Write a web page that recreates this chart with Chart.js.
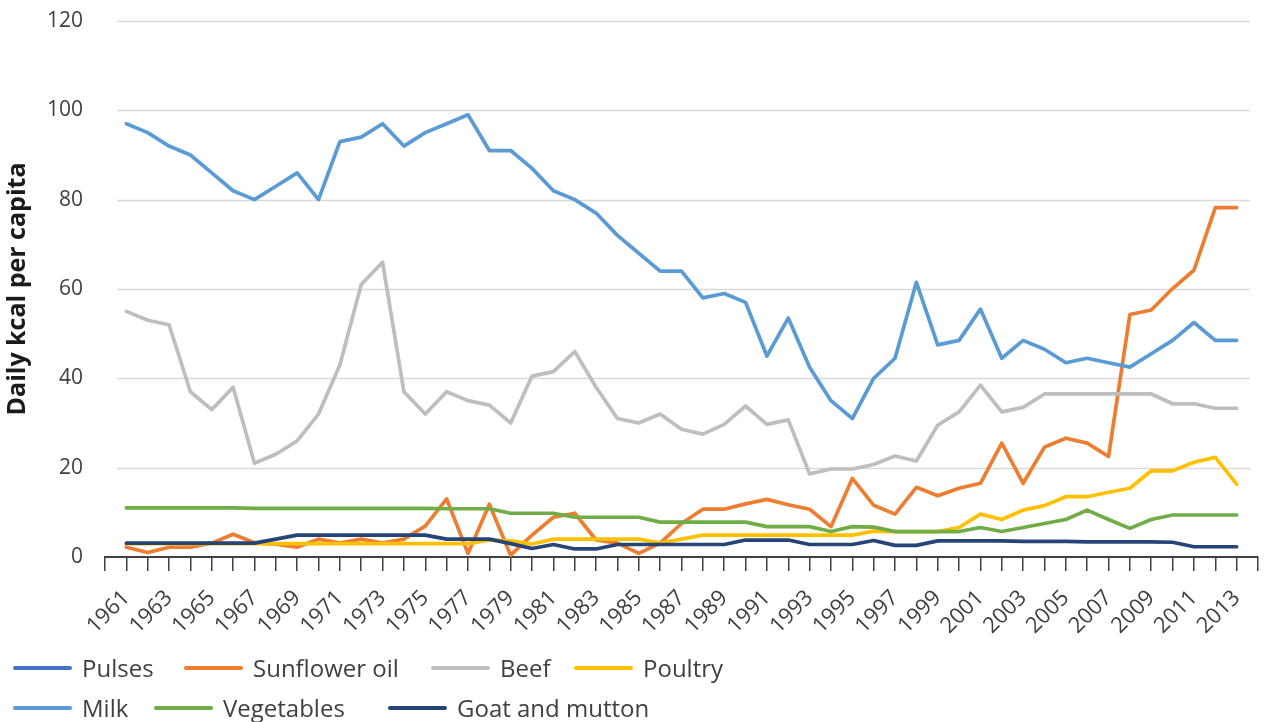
<!DOCTYPE html>
<html>
<head>
<meta charset="utf-8">
<script src="https://cdn.jsdelivr.net/npm/chart.js@4.4.1/dist/chart.umd.min.js"></script>
<style>
  html, body { margin: 0; padding: 0; background: #ffffff; }
  #wrap { position: relative; width: 1266px; height: 722px; overflow: hidden; font-family: "Open Sans", sans-serif; }
  #c { position: absolute; left: 0; top: 0; }
  .lg { position: absolute; display: flex; align-items: center; height: 30px; white-space: nowrap; }
  .lg .sw { width: 59px; height: 4px; border-radius: 2px; margin-right: 10px; }
  .lg .tx { font-size: 24px; color: #404040; line-height: 30px; }
</style>
</head>
<body>
<div id="wrap">
  <canvas id="c" width="1266" height="722"></canvas>
</div>
<script>
// ---- data ----
const years = [];
for (let y = 1961; y <= 2013; y++) years.push(y);

const seriesNames = ["Pulses", "Sunflower oil", "Beef", "Poultry", "Milk", "Vegetables", "Goat and mutton"];
const seriesColors = ["#4472C4", "#ED7D31", "#BEBEBE", "#FFC000", "#5B9BD5", "#70AD47", "#264478"];

const pulses = years.map(() => null);

const sunflowerOil = [
  2.2, 1.0, 2.2, 2.2, 3.1, 5.1, 3.2, 2.9, 2.2, 4.0,
  3.1, 4.0, 3.1, 4.0, 6.9, 13.0, 0.8, 11.8, 0.4, 4.9,
  8.9, 9.8, 3.8, 3.1, 0.8, 3.1, 7.5, 10.7, 10.7, 11.9,
  12.9, 11.7, 10.7, 6.8, 17.6, 11.6, 9.6, 15.6, 13.7, 15.4,
  16.5, 25.5, 16.5, 24.6, 26.6, 25.5, 22.5, 54.3, 55.3, 60.1,
  64.2, 78.2, 78.2
];

const beef = [
  55, 53, 52, 37, 33, 38, 21, 23, 26, 32,
  43, 61, 66, 37, 32, 37, 35, 34, 30, 40.5,
  41.5, 46, 38, 31, 30, 32, 28.6, 27.5, 29.7, 33.8,
  29.7, 30.7, 18.6, 19.7, 19.7, 20.7, 22.6, 21.5, 29.5, 32.5,
  38.5, 32.5, 33.5, 36.5, 36.5, 36.5, 36.5, 36.5, 36.5, 34.3,
  34.3, 33.3, 33.3
];

const poultry = [
  3, 3, 3, 3, 3, 3, 3, 3, 3, 3,
  3, 3, 3, 3, 3, 3, 3, 3.8, 3.6, 2.9,
  4.0, 4.0, 4.0, 4.0, 4.0, 3.1, 4.0, 4.9, 4.9, 4.9,
  4.9, 4.9, 4.9, 4.9, 4.9, 5.8, 5.7, 5.7, 5.7, 6.6,
  9.6, 8.4, 10.5, 11.5, 13.5, 13.5, 14.5, 15.4, 19.3, 19.3,
  21.2, 22.3, 16.3
];

const milk = [
  97, 95, 92, 90, 86, 82, 80, 83, 86, 80,
  93, 94, 97, 92, 95, 97, 99, 91, 91, 87,
  82, 80, 77, 72, 68, 64, 64, 58, 59, 57,
  45, 53.5, 42.5, 35, 31, 40, 44.5, 61.5, 47.5, 48.5,
  55.5, 44.5, 48.5, 46.5, 43.5, 44.5, 43.5, 42.5, 45.5, 48.5,
  52.5, 48.5, 48.5
];

const vegetables = [
  11.0, 11.0, 11.0, 11.0, 11.0, 11.0, 10.9, 10.9, 10.9, 10.9,
  10.9, 10.9, 10.9, 10.9, 10.9, 10.8, 10.8, 10.8, 9.8, 9.8,
  9.8, 8.9, 8.9, 8.9, 8.9, 7.8, 7.8, 7.8, 7.8, 7.8,
  6.8, 6.8, 6.8, 5.7, 6.8, 6.7, 5.7, 5.7, 5.7, 5.7,
  6.6, 5.7, 6.6, 7.5, 8.4, 10.5, 8.4, 6.4, 8.4, 9.4,
  9.4, 9.4, 9.4
];

const goatMutton = [
  3.1, 3.1, 3.1, 3.1, 3.1, 3.1, 3.1, 4.0, 4.9, 4.9,
  4.9, 4.9, 4.9, 4.9, 4.9, 4.0, 4.0, 4.0, 3.0, 1.9,
  2.8, 1.8, 1.8, 2.8, 2.8, 2.8, 2.8, 2.8, 2.8, 3.8,
  3.8, 3.8, 2.8, 2.8, 2.8, 3.7, 2.6, 2.6, 3.6, 3.6,
  3.6, 3.6, 3.5, 3.5, 3.5, 3.4, 3.4, 3.4, 3.4, 3.3,
  2.3, 2.3, 2.3
];

const seriesValues = [pulses, sunflowerOil, beef, poultry, milk, vegetables, goatMutton];

const yTicks = [0, 20, 40, 60, 80, 100, 120];
const yTitle = "Daily kcal per capita";

// ---- legend layout ----
const legendPos = [
  [13, 653], [184, 653], [431, 653], [574, 653],
  [13, 693], [154, 693], [388, 693]
];

const datasets = seriesNames.map((name, i) => ({
  label: name,
  data: years.map((yr, k) => ({ x: yr, y: seriesValues[i][k] })),
  borderColor: seriesColors[i],
  backgroundColor: seriesColors[i],
  order: seriesNames.length - i
}));

const gridPlugin = {
  id: 'insetGrid',
  beforeDatasetsDraw(chart) {
    const { ctx, chartArea, scales } = chart;
    const ys = scales.y;
    ctx.save();
    ctx.strokeStyle = '#D9D9D9';
    ctx.lineWidth = 1.5;
    yTicks.forEach(v => {
      if (v === 0) return;
      const py = Math.round(ys.getPixelForValue(v)) + 0.5;
      ctx.beginPath();
      ctx.moveTo(chartArea.left + 12, py);
      ctx.lineTo(chartArea.right - 8, py);
      ctx.stroke();
    });
    ctx.restore();
  }
};

const font = "'Open Sans', sans-serif";

new Chart(document.getElementById('c').getContext('2d'), {
  type: 'line',
  data: { datasets },
  options: {
    responsive: false,
    animation: false,
    devicePixelRatio: 1,
    layout: { padding: { top: 21, right: 8, left: 0, bottom: 0 } },
    plugins: { legend: { display: false }, tooltip: { enabled: false } },
    elements: {
      point: { radius: 0 },
      line: { tension: 0, borderWidth: 3.7, borderJoinStyle: 'round', borderCapStyle: 'round' }
    },
    scales: {
      x: {
        type: 'linear',
        min: 1960,
        max: 2014,
        afterFit(s) { s.height = 165; s.paddingLeft = 0; s.paddingRight = 0; },
        grid: { drawOnChartArea: false, color: '#404040', lineWidth: 1.5, tickLength: 14 },
        border: { display: true, color: '#404040', width: 2 },
        ticks: {
          stepSize: 1,
          autoSkip: false,
          minRotation: 45,
          maxRotation: 45,
          color: '#404040',
          padding: 14,
          font: { family: font, size: 22 },
          callback(v) {
            return (v >= 1961 && v <= 2013 && v % 2 === 1) ? String(v) : '';
          }
        }
      },
      y: {
        min: 0,
        max: 120,
        afterFit(s) { s.width = 105; s.paddingTop = 0; s.paddingBottom = 0; },
        grid: { display: false, drawTicks: false },
        border: { display: false },
        afterBuildTicks(s) { s.ticks = yTicks.map(v => ({ value: v })); },
        ticks: {
          stepSize: 20,
          padding: 22,
          color: '#404040',
          font: { family: font, size: 21 }
        },
        title: {
          display: true,
          text: yTitle,
          color: '#1a1a1a',
          padding: { top: 3, bottom: 0 },
          font: { family: font, size: 25, weight: 'bold' }
        }
      }
    }
  },
  plugins: [gridPlugin]
});

// ---- HTML legend built from the series arrays ----
const wrap = document.getElementById('wrap');
seriesNames.forEach((name, i) => {
  const d = document.createElement('div');
  d.className = 'lg';
  d.style.left = legendPos[i][0] + 'px';
  d.style.top = legendPos[i][1] + 'px';
  const sw = document.createElement('span');
  sw.className = 'sw';
  sw.style.background = seriesColors[i];
  const tx = document.createElement('span');
  tx.className = 'tx';
  tx.textContent = name;
  d.appendChild(sw);
  d.appendChild(tx);
  wrap.appendChild(d);
});
</script>
</body>
</html>
